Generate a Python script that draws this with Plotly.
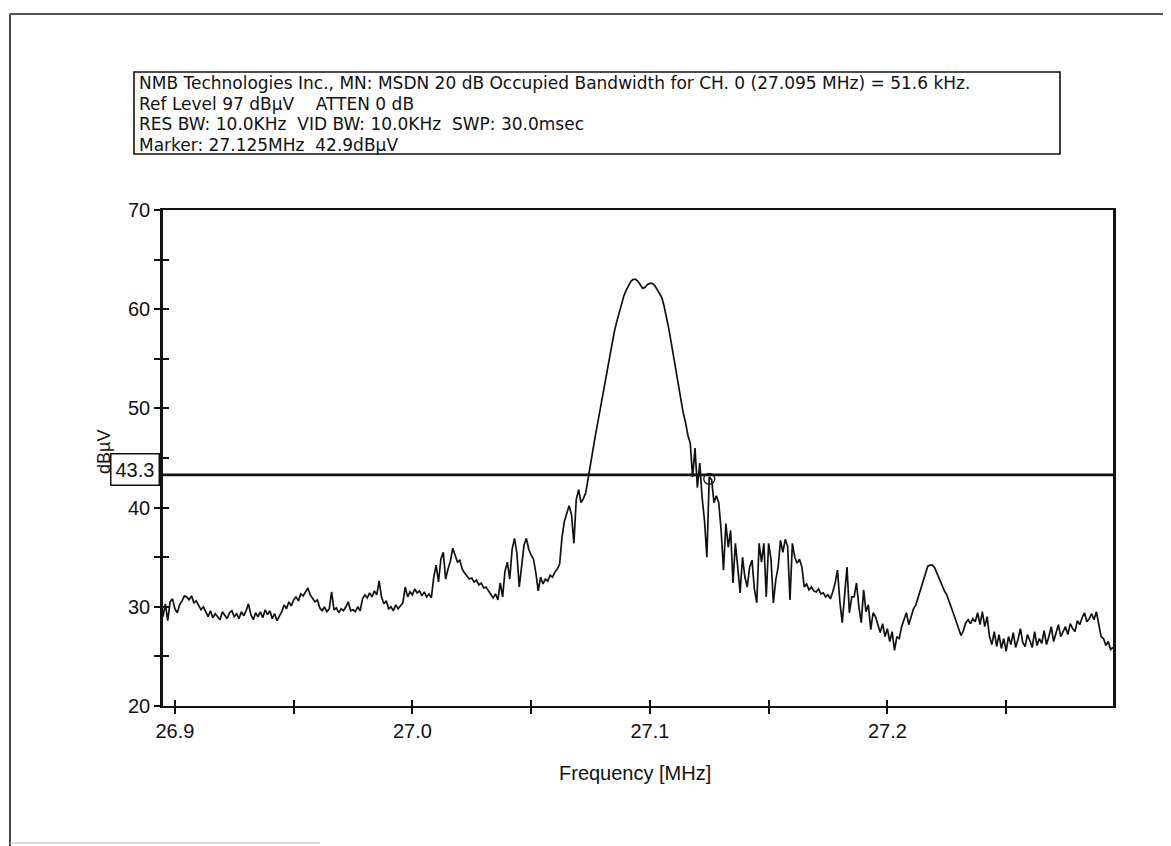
import plotly.graph_objects as go
import numpy as np

# ---------------- data ----------------
sweep_start_mhz = 26.895
sweep_stop_mhz = 27.295

level_dbuv = [
    29.0, 30.3, 28.6, 30.5, 30.8, 29.8, 29.4, 30.2, 30.6, 31.1, 31.0,
    30.7, 31.1, 30.4, 30.6, 30.1, 29.7, 30.0, 29.4, 29.0, 29.6,
    28.9, 29.3, 29.0, 28.7, 29.5, 29.1, 28.8, 29.4, 29.6, 29.0,
    29.3, 28.8, 29.5, 29.1, 29.6, 30.3, 29.2, 28.7, 29.4, 29.0,
    29.5, 28.9, 29.7, 29.2, 29.6, 28.8, 29.3, 28.6, 29.1, 29.5,
    30.2, 29.8, 30.5, 30.1, 30.7, 31.0, 30.6, 31.3, 31.1, 31.5,
    31.9, 31.2, 30.8, 30.5, 30.7, 29.9, 29.6, 30.0, 29.5, 29.8,
    31.5, 29.7, 29.9, 29.4, 29.8, 29.6, 30.0, 30.5, 29.6, 29.7,
    29.5, 30.0, 29.6, 30.8, 31.2, 30.9, 31.4, 31.0, 31.6, 31.2,
    32.6, 31.0, 30.3, 30.6, 29.8, 30.0, 29.6, 30.2, 29.8, 30.1,
    30.4, 32.0, 31.0, 31.5, 31.2, 31.8, 31.4, 31.6, 31.1, 31.5,
    31.0, 31.3, 30.9, 33.0, 34.2, 32.5, 34.8, 35.5, 32.8, 33.8,
    34.6, 35.9, 35.2, 34.5, 34.7, 33.8, 33.4, 33.1, 32.8, 32.9,
    32.5, 32.7, 32.2, 32.4, 31.9, 32.0, 31.6, 31.2, 30.9, 31.3,
    30.7, 32.4, 31.0, 33.6, 34.5, 32.8, 35.8, 36.9, 35.4, 32.0,
    34.2, 36.2, 36.9, 35.8, 35.2, 34.8, 33.4, 31.6, 33.0, 32.3,
    32.8, 32.6, 33.2, 33.0, 33.5, 33.8, 34.3, 37.0, 38.6, 39.5,
    40.2, 39.3, 36.4, 40.8, 41.8, 40.5, 40.9, 41.5, 43.0, 44.2,
    45.8, 47.2, 48.5, 49.8, 51.1, 52.5, 53.9, 55.3, 56.5, 57.7,
    58.7, 59.6, 60.5, 61.3, 61.9, 62.4, 62.8, 63.0, 63.0, 62.8,
    62.4, 62.1, 62.2, 62.5, 62.6, 62.6, 62.4, 62.0, 61.6, 61.2,
    60.3, 59.2, 58.0, 56.6, 55.2, 53.6, 52.2, 50.9, 49.6, 48.6,
    47.3, 46.5, 43.1, 46.0, 42.0, 44.5, 41.0, 38.7, 35.0, 43.1,
    42.8, 40.5, 41.2, 40.5, 37.7, 33.7, 38.4, 36.0, 37.7, 32.4,
    36.4, 34.0, 31.4, 35.0, 33.0, 32.0, 34.0, 34.7, 31.8, 30.4,
    36.4, 34.5, 36.4, 31.0, 36.4, 34.8, 30.4, 32.7, 34.0, 36.7,
    35.5, 36.8, 36.1, 30.7, 36.4, 35.0, 34.4, 34.8, 34.0, 32.0,
    32.3, 31.7, 32.0, 31.6, 31.5, 31.8, 31.3, 31.4, 31.0, 31.2,
    30.8, 31.5, 32.4, 33.7, 30.5, 28.4, 31.5, 34.0, 29.4, 31.0,
    31.0, 32.4, 30.0, 28.4, 31.7, 29.5, 30.2, 27.7, 29.4, 29.0,
    28.2, 27.4, 28.3, 27.0, 27.8, 26.5, 27.5, 25.6, 27.0, 26.8,
    28.0, 28.7, 29.4, 28.2, 28.9, 29.8, 30.2, 31.0, 31.8, 32.6,
    33.4, 34.1, 34.2, 34.2, 33.9, 33.3, 32.8, 32.2, 31.6, 31.2,
    30.6, 29.8, 29.2, 28.5, 27.8, 27.1, 27.6, 28.4, 28.7, 28.3,
    28.8, 28.5, 29.4, 28.2, 29.5, 28.0, 29.0, 27.0, 26.2, 27.5,
    26.0, 27.2, 25.8, 26.8, 25.5, 27.0, 26.2, 27.4, 25.9, 26.7,
    27.8, 26.4, 26.0, 27.2, 26.6, 25.9, 27.5, 26.1, 26.8, 26.3,
    27.6, 26.2, 27.0, 28.0, 26.5, 27.3, 28.2, 27.0, 27.6, 28.0,
    27.2, 28.3, 27.8, 27.5, 28.6, 28.2, 28.9, 29.4, 28.5, 28.8,
    29.3, 28.7, 29.5, 28.2, 27.0, 26.8, 26.1, 26.5, 25.7, 25.9,
]

threshold_dbuv = 43.3
marker_freq_mhz = 27.125
marker_level_dbuv = 42.9

x_tick_vals = [26.9, 26.95, 27.0, 27.05, 27.1, 27.15, 27.2, 27.25]
x_tick_text = ["26.9", "", "27.0", "", "27.1", "", "27.2", ""]
y_tick_vals = [20, 25, 30, 35, 40, 45, 50, 55, 60, 65, 70]
y_tick_text = ["20", "", "30", "", "40", "", "50", "", "60", "", "70"]

header_lines = [
    "NMB Technologies Inc., MN: MSDN 20 dB Occupied Bandwidth for CH. 0 (27.095 MHz) = 51.6 kHz.",
    "Ref Level 97 dBµV    ATTEN 0 dB",
    "RES BW: 10.0KHz  VID BW: 10.0KHz  SWP: 30.0msec",
    "Marker: 27.125MHz  42.9dBµV",
]

# ---------------- figure ----------------
freq_mhz = np.linspace(sweep_start_mhz, sweep_stop_mhz, len(level_dbuv))

FONT = "Liberation Sans, Arial, sans-serif"
HEADER_FONT = "DejaVu Sans, Liberation Sans, sans-serif"
INK = "#111111"

fig = go.Figure()
fig.add_trace(go.Scatter(x=freq_mhz, y=level_dbuv, mode="lines",
                         line=dict(color=INK, width=1.7), hoverinfo="skip"))
fig.add_trace(go.Scatter(x=[sweep_start_mhz, sweep_stop_mhz],
                         y=[threshold_dbuv, threshold_dbuv], mode="lines",
                         line=dict(color=INK, width=2.6), hoverinfo="skip"))
fig.add_trace(go.Scatter(x=[marker_freq_mhz], y=[marker_level_dbuv], mode="markers",
                         marker=dict(symbol="circle-open", size=11, color=INK,
                                     line=dict(color=INK, width=1.3)),
                         xaxis="x2", yaxis="y2", hoverinfo="skip"))

axis_common = dict(showgrid=False, zeroline=False, tickcolor=INK, tickwidth=1.5,
                   tickfont=dict(family=FONT, size=20, color=INK))
xr = [sweep_start_mhz, sweep_stop_mhz]
yr = [20, 70]

# the page body has an 8px margin, so the figure is 8px smaller and margins shifted
fig.update_layout(
    width=1163, height=838,
    margin=dict(l=155, r=58, t=202, b=140),
    paper_bgcolor="white", plot_bgcolor="white",
    showlegend=False,
    font=dict(family=FONT, size=20, color=INK),
    xaxis=dict(range=xr, tickmode="array", tickvals=x_tick_vals, ticktext=x_tick_text,
               ticks="outside", ticklen=6, showline=True, linewidth=2, linecolor=INK,
               mirror=True, **axis_common),
    yaxis=dict(range=yr, tickmode="array", tickvals=y_tick_vals, ticktext=y_tick_text,
               ticks="outside", ticklen=6, showline=True, linewidth=2.5, linecolor=INK,
               mirror=True, **axis_common),
    xaxis2=dict(range=xr, overlaying="x", anchor="y", side="bottom", tickmode="array",
                tickvals=x_tick_vals, ticks="inside", ticklen=6, showticklabels=False,
                showline=False, **axis_common),
    yaxis2=dict(range=yr, overlaying="y", anchor="x", side="left", tickmode="array",
                tickvals=y_tick_vals, ticks="inside", ticklen=6, showticklabels=False,
                showline=False, **axis_common),
)


# page-pixel -> paper coordinates (plot area spans page x 163..1113, y 210..706)
def px_x(px):
    return (px - 163) / 950.0


def px_y(py):
    return (706 - py) / 496.0


shapes = [
    # header box
    dict(type="rect", xref="paper", yref="paper", x0=px_x(134), x1=px_x(1060),
         y0=px_y(154), y1=px_y(72), line=dict(color=INK, width=1.6)),
    # page border
    dict(type="line", xref="paper", yref="paper", x0=px_x(10), x1=px_x(1171),
         y0=px_y(14), y1=px_y(14), line=dict(color="#555555", width=2)),
    dict(type="line", xref="paper", yref="paper", x0=px_x(10), x1=px_x(10),
         y0=px_y(14), y1=px_y(846), line=dict(color="#444444", width=2)),
    dict(type="line", xref="paper", yref="paper", x0=px_x(10), x1=px_x(320),
         y0=px_y(843), y1=px_y(843), line=dict(color="#bbbbbb", width=1)),
]
fig.update_layout(shapes=shapes)

annotations = []
for i, line in enumerate(header_lines):
    annotations.append(dict(text=line, xref="paper", yref="paper", x=px_x(137),
                            y=px_y(83 + 20.5 * i), xanchor="left", yanchor="middle",
                            showarrow=False,
                            font=dict(family=HEADER_FONT, size=17, color=INK)))
annotations.append(dict(text="Frequency [MHz]", xref="paper", yref="paper",
                        x=px_x(635), y=px_y(773), xanchor="center", yanchor="middle",
                        showarrow=False, font=dict(family=FONT, size=20, color=INK)))
annotations.append(dict(text="dBµV", xref="paper", yref="paper", x=px_x(104),
                        y=px_y(452), xanchor="center", yanchor="middle", textangle=-90,
                        showarrow=False, font=dict(family=FONT, size=18, color=INK)))
annotations.append(dict(text="43.3", xref="paper", yref="y", x=px_x(160),
                        y=threshold_dbuv, xanchor="right", yanchor="middle", yshift=5,
                        showarrow=False, bgcolor="white", bordercolor=INK, borderwidth=1.5,
                        borderpad=4, font=dict(family=FONT, size=20, color=INK)))
fig.update_layout(annotations=annotations)

fig.write_html("out.html")
